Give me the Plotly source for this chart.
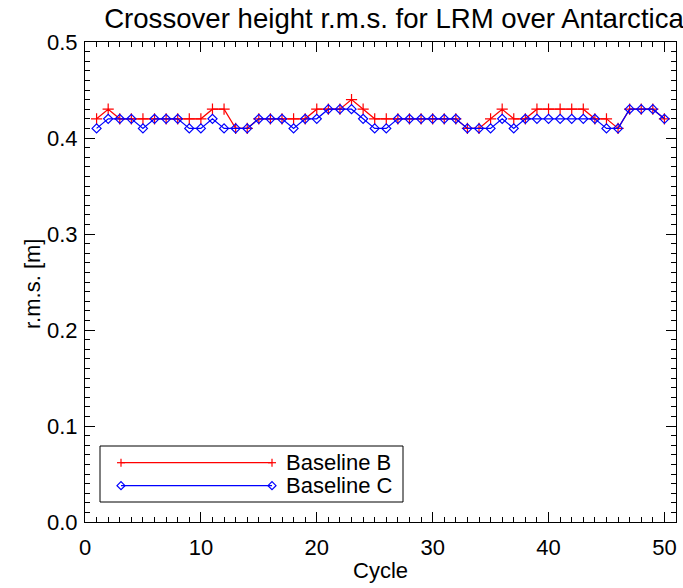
import plotly.graph_objects as go

cycles = list(range(1, 51))
baseline_b = [0.42, 0.43, 0.42, 0.42, 0.42, 0.42, 0.42, 0.42, 0.42, 0.42,
              0.43, 0.43, 0.41, 0.41, 0.42, 0.42, 0.42, 0.42, 0.42, 0.43,
              0.43, 0.43, 0.44, 0.43, 0.42, 0.42, 0.42, 0.42, 0.42, 0.42,
              0.42, 0.42, 0.41, 0.41, 0.42, 0.43, 0.42, 0.42, 0.43, 0.43,
              0.43, 0.43, 0.43, 0.42, 0.42, 0.41, 0.43, 0.43, 0.43, 0.42]
baseline_c = [0.41, 0.42, 0.42, 0.42, 0.41, 0.42, 0.42, 0.42, 0.41, 0.41,
              0.42, 0.41, 0.41, 0.41, 0.42, 0.42, 0.42, 0.41, 0.42, 0.42,
              0.43, 0.43, 0.43, 0.42, 0.41, 0.41, 0.42, 0.42, 0.42, 0.42,
              0.42, 0.42, 0.41, 0.41, 0.41, 0.42, 0.41, 0.42, 0.42, 0.42,
              0.42, 0.42, 0.42, 0.42, 0.41, 0.41, 0.43, 0.43, 0.43, 0.42]
series_names = ["Baseline B", "Baseline C"]
x_ticks = [0, 10, 20, 30, 40, 50]
y_ticks = [0.0, 0.1, 0.2, 0.3, 0.4, 0.5]

RED = "#ff0000"
BLUE = "#0000ff"
FONT = "Liberation Sans, Arial, Helvetica, sans-serif"

W, H = 683, 588
L, R, T, B = 85, 7, 42, 66
PW, PH = W - L - R, H - T - B


def px(x):
    return (x - L) / PW


def py(y):
    return (H - B - y) / PH


fig = go.Figure()
fig.add_trace(go.Scatter(
    x=cycles, y=baseline_b, mode="lines+markers", name=series_names[0],
    line=dict(color=RED, width=1.2),
    marker=dict(symbol="cross-thin-open", size=8, color=RED,
                line=dict(color=RED, width=1.2)),
    showlegend=False))
fig.add_trace(go.Scatter(
    x=cycles, y=baseline_c, mode="lines+markers", name=series_names[1],
    line=dict(color=BLUE, width=1.2),
    marker=dict(symbol="diamond-open", size=7, color=BLUE,
                line=dict(color=BLUE, width=1.2)),
    showlegend=False))

axis_common = dict(
    showgrid=False, zeroline=False, showline=True, linecolor="black",
    linewidth=1, mirror="allticks", ticks="inside", ticklen=10,
    tickcolor="black", tickwidth=1,
    tickfont=dict(family=FONT, size=22, color="black"),
)
fig.update_xaxes(range=[0, 51], tickvals=x_ticks, ticklabelstandoff=6,
                 minor=dict(ticks="inside", dtick=1, ticklen=5,
                            tickcolor="black", tickwidth=1),
                 **axis_common)
fig.update_yaxes(range=[0, 0.5], tickvals=y_ticks, tickformat=".1f",
                 ticklabelstandoff=2,
                 minor=dict(ticks="inside", dtick=0.01, ticklen=5,
                            tickcolor="black", tickwidth=1),
                 **axis_common)

shapes = []
annotations = []
# legend box
shapes.append(dict(type="rect", xref="paper", yref="paper",
                   x0=px(100), x1=px(403), y0=py(502), y1=py(446),
                   line=dict(color="black", width=1), fillcolor="white",
                   layer="above"))
leg_y = [462.7, 485.7]
cols = [RED, BLUE]
for i in range(2):
    yy = py(leg_y[i])
    shapes.append(dict(type="line", xref="paper", yref="paper",
                       x0=px(121), x1=px(272), y0=yy, y1=yy,
                       line=dict(color=cols[i], width=1.2), layer="above"))
    for xe in (121, 272):
        if i == 0:
            for (a0, a1, b0, b1) in ((-4, 4, 0, 0), (0, 0, -4, 4)):
                shapes.append(dict(type="line", xref="paper", yref="paper",
                                   xsizemode="pixel", ysizemode="pixel",
                                   xanchor=px(xe), yanchor=yy,
                                   x0=a0, x1=a1, y0=b0, y1=b1,
                                   line=dict(color=RED, width=1.2),
                                   layer="above"))
        else:
            shapes.append(dict(type="path", xref="paper", yref="paper",
                               xsizemode="pixel", ysizemode="pixel",
                               xanchor=px(xe), yanchor=yy,
                               path="M -4 0 L 0 4 L 4 0 L 0 -4 Z",
                               line=dict(color=BLUE, width=1.2),
                               fillcolor="rgba(0,0,0,0)", layer="above"))
    annotations.append(dict(text=series_names[i], xref="paper", yref="paper",
                            x=px(284), y=yy, xanchor="left", yanchor="middle",
                            showarrow=False,
                            font=dict(family=FONT, size=22, color="black")))

annotations.append(dict(text="Cycle", xref="paper", yref="paper",
                        x=px(380.5), y=py(570), xanchor="center",
                        yanchor="middle", showarrow=False,
                        font=dict(family=FONT, size=22, color="black")))
annotations.append(dict(text="r.m.s. [m]", xref="paper", yref="paper",
                        x=px(32), y=py(284), xanchor="center",
                        yanchor="middle", textangle=-90, showarrow=False,
                        font=dict(family=FONT, size=22, color="black")))

fig.update_layout(
    width=W, height=H,
    margin=dict(l=L, r=R, t=T, b=B),
    paper_bgcolor="white", plot_bgcolor="white",
    title=dict(text="Crossover height r.m.s. for LRM over Antarctica",
               x=394 / W, xanchor="center", y=1 - 18 / H, yanchor="middle",
               font=dict(family=FONT, size=27.6, color="black")),
    shapes=shapes, annotations=annotations,
    showlegend=False,
)

fig.write_html("out.html")
